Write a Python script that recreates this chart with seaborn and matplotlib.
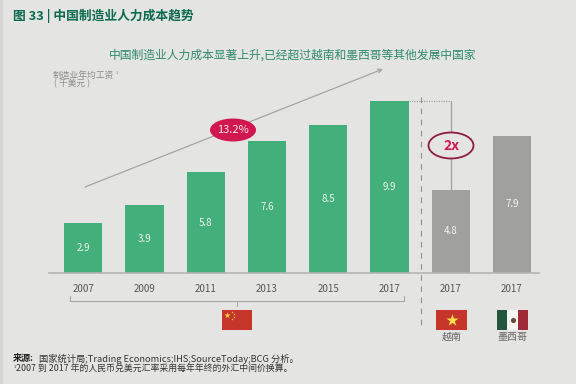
import matplotlib
matplotlib.use("Agg")
import matplotlib.pyplot as plt
from matplotlib.patches import Ellipse, Rectangle
import numpy as np
import pandas as pd
import seaborn as sns

keys = ["c07", "c09", "c11", "c13", "c15", "c17", "vn", "mx"]
tick_labels = ["2007", "2009", "2011", "2013", "2015", "2017", "2017", "2017"]
values = [2.9, 3.9, 5.8, 7.6, 8.5, 9.9, 4.8, 7.9]
groups = ["cn", "cn", "cn", "cn", "cn", "cn", "other", "other"]
value_labels = ["2.9", "3.9", "5.8", "7.6", "8.5", "9.9", "4.8", "7.9"]

BG = "#e4e4e2"
GREEN = "#43b07c"
GREY = "#a0a09f"
DARK = "#0b6a4f"
CRIM = "#d0174f"

sns.set_theme(style="white")
plt.rcParams["font.family"] = ["Noto Sans CJK SC", "DejaVu Sans"]

W, H = 576, 384
fig = plt.figure(figsize=(W / 100, H / 100), dpi=100, facecolor=BG)

base, top = 273, 65
x0, step = 83.2, 61.26
left, right = 48.5, 539
ax = fig.add_axes([left / W, 1 - base / H, (right - left) / W, (base - top) / H], facecolor="none")
df = pd.DataFrame({"k": keys, "v": values, "g": groups})
sns.barplot(data=df, x="k", y="v", hue="g", order=keys, dodge=False, width=0.625,
            palette={"cn": GREEN, "other": GREY}, legend=False, ax=ax, saturation=1, linewidth=0)
ax.set_xlim((left - x0) / step, (right - x0) / step)
ax.set_ylim(0, (base - top) / 17.37)
for i, v in enumerate(values):
    ax.text(i, v / 2, value_labels[i], ha="center", va="center", color="#f2f2ee", fontsize=7)
ax.set_xticks(range(8))
ax.set_xticklabels(tick_labels, fontsize=7, color="#555555")
ax.tick_params(axis="x", length=0, pad=8)
ax.set_yticks([])
ax.set_xlabel("")
ax.set_ylabel("")
for s in ["top", "left", "right"]:
    ax.spines[s].set_visible(False)
ax.spines["bottom"].set_color("#b4b4b2")
ax.spines["bottom"].set_linewidth(1.2)

# annotation layer in pixel coordinates
o = fig.add_axes([0, 0, 1, 1], facecolor="none")
o.set_xlim(0, W)
o.set_ylim(H, 0)
o.axis("off")

o.add_patch(Rectangle((0, 0), 2.5, H, color="#d4d4d2", lw=0))

o.text(13, 16, "图 33 | 中国制造业人力成本趋势", fontsize=9.2, fontweight="bold",
       color=DARK, va="center")
o.text(292.5, 55.5, "中国制造业人力成本显著上升,已经超过越南和墨西哥等其他发展中国家",
       fontsize=8.5, color="#2f8a6e", ha="center", va="center")
o.text(53, 75.5, "制造业年均工资", fontsize=6.3, color="#8c8c8c", va="center")
o.text(116, 73, "1", fontsize=3, color="#8c8c8c", va="center")
o.text(54, 84, "( 千美元 )", fontsize=6.3, color="#8c8c8c", va="center")

# growth arrow
o.annotate("", xy=(383, 69), xytext=(85, 187),
           arrowprops=dict(arrowstyle="->", color="#a5a5a3", lw=0.9, mutation_scale=7, shrinkA=0, shrinkB=0))
o.add_patch(Ellipse((233, 130), 46, 23, fc=CRIM, ec="none", zorder=5))
o.text(233, 130, "13.2%", color="#f6e6ea", fontsize=8, ha="center", va="center", zorder=6)

# comparison guides
o.plot([409, 451], [101, 101], color="#9a9a98", lw=0.8, ls=(0, (1, 1.2)))
o.plot([451, 451], [101, 190], color="#a5a5a3", lw=1.0)
o.plot([421, 421], [97, 327], color="#8f8f8d", lw=0.8, ls=(0, (5, 5)))
o.add_patch(Ellipse((451, 145.5), 45, 26, fc=BG, ec="#8e1d3f", lw=1.3, zorder=5))
o.text(451, 145.5, "2x", color=CRIM, fontsize=10, fontweight="bold", ha="center", va="center", zorder=6)

# bracket
o.plot([70, 70, 404, 404], [296, 300.5, 300.5, 296], color="#a8a8a6", lw=0.8)
o.plot([237, 237], [300.5, 306], color="#a8a8a6", lw=0.8)

# flags
RED = "#c5352a"
o.add_patch(Rectangle((222, 310), 30, 20, color=RED, lw=0))
o.scatter([227], [315], marker="*", s=22, color="#f4d23c", lw=0, zorder=4)
o.scatter([232, 234, 234, 232], [311.5, 313.5, 316.5, 318.5], marker="*", s=3, color="#f4d23c", lw=0, zorder=4)
o.add_patch(Rectangle((436, 310), 31, 20, color=RED, lw=0))
o.scatter([451.5], [320], marker="*", s=85, color="#f7e04a", lw=0, zorder=4)
o.add_patch(Rectangle((497, 310), 10, 20, color="#24563f", lw=0))
o.add_patch(Rectangle((507, 310), 10.5, 20, color="#f4f4f2", lw=0))
o.add_patch(Rectangle((517.5, 310), 10, 20, color="#a02a37", lw=0))
o.scatter([512.5], [320], s=14, color="#6b4a3a", lw=0, zorder=4)
o.text(451.5, 337, "越南", fontsize=7.2, color="#666666", ha="center", va="center")
o.text(512.5, 337, "墨西哥", fontsize=7.2, color="#666666", ha="center", va="center")

# source notes
o.text(13, 358.5, "来源:", fontsize=6.5, fontweight="bold", color="#222222", va="center")
o.text(39, 358.5, "国家统计局;Trading Economics;IHS;SourceToday;BCG 分析。",
       fontsize=6.7, color="#333333", va="center")
o.text(14, 367, "1", fontsize=3, color="#333333", va="center")
o.text(16, 369.5, "2007 到 2017 年的人民币兑美元汇率采用每年年终的外汇中间价换算。",
       fontsize=6.4, color="#333333", va="center")

fig.savefig("out.png", dpi=100, facecolor=BG)
